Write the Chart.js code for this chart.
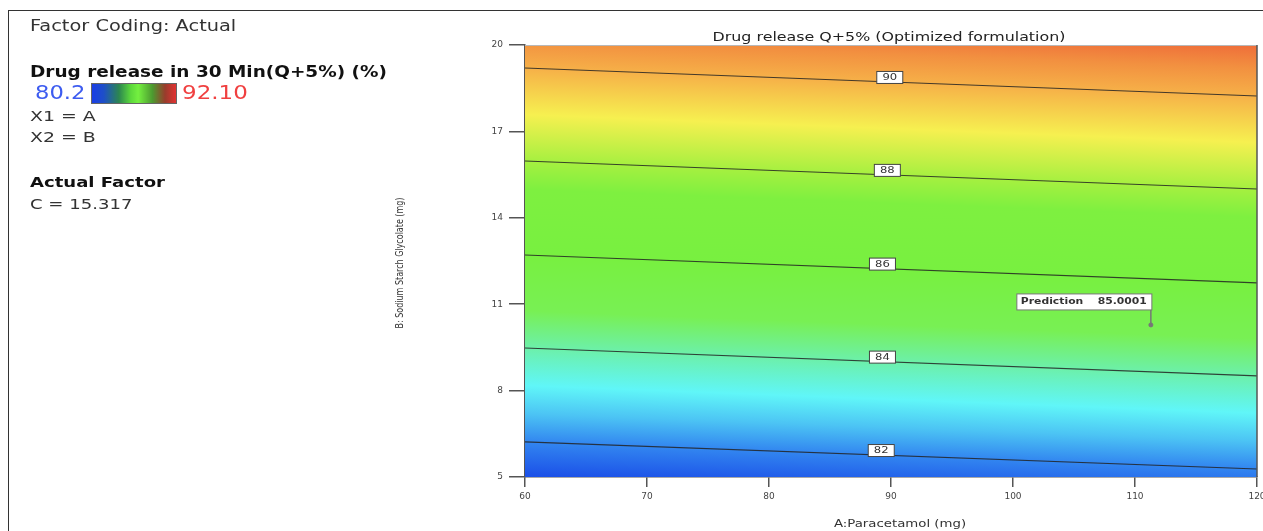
<!DOCTYPE html>
<html>
<head>
<meta charset="utf-8" />
<script src="https://cdn.jsdelivr.net/npm/chart.js@4.4.1/dist/chart.umd.min.js"></script>
<style>
  body { margin:0; background:#fff; overflow:hidden; width:1263px; height:531px; font-family:"DejaVu Sans", sans-serif; }
  #frame { position:absolute; left:8px; top:10px; width:1300px; height:600px; border-left:1.5px solid #333; border-top:1.5px solid #333; }
  #holder { position:absolute; left:0; top:0; width:1275px; height:531px; }
  .t { position:absolute; white-space:nowrap; transform-origin:0 0; transform:scaleX(1.29); line-height:1; color:#333; }
  #cbar { position:absolute; left:91px; top:83px; width:84px; height:19px; border:1px solid #666;
    background:linear-gradient(to right,#1a3ee6 0%,#1e4fc8 14%,#2c8650 32%,#5cd83c 46%,#74f040 55%,#4c9a30 72%,#983c2c 87%,#e23232 100%); }
</style>
</head>
<body>
<div id="frame"></div>
<div id="holder"><canvas id="contour"></canvas></div>

<div class="t" style="left:30px;top:19px;font-size:15px;">Factor Coding: Actual</div>
<div class="t" style="left:30px;top:65px;font-size:15px;font-weight:bold;color:#111;transform:scaleX(1.23);">Drug release in 30 Min(Q+5%) (%)</div>
<div class="t" style="left:35px;top:83px;font-size:19px;color:#3d5cf0;transform:scaleX(1.19);">80.2</div>
<div id="cbar"></div>
<div class="t" style="left:182px;top:83px;font-size:19px;color:#f04040;transform:scaleX(1.21);">92.10</div>
<div class="t" style="left:30px;top:110px;font-size:13.5px;transform:scaleX(1.4);">X1 = A</div>
<div class="t" style="left:30px;top:131px;font-size:13.5px;transform:scaleX(1.4);">X2 = B</div>
<div class="t" style="left:30px;top:175px;font-size:14px;font-weight:bold;color:#111;">Actual Factor</div>
<div class="t" style="left:30px;top:197px;font-size:14px;">C = 15.317</div>

<script>
// axis ticks
const xTicks = [60, 70, 80, 90, 100, 110, 120];
const yTicks = [5, 8, 11, 14, 17, 20];

// contour levels and where each crosses A = 60 and A = 120 (values of B)
const levels  = [82, 84, 86, 88, 90];
const bAtA60  = [6.22, 9.48, 12.71, 15.97, 19.20];
const bAtA120 = [5.28, 8.51, 11.74, 15.00, 18.23];
const labelA  = [89.2, 89.3, 89.3, 89.7, 89.9];

// flagged prediction point
const predA = 111.3, predB = 10.28, predText = '85.0001';

// colour ramp of the response
const rampVals = [80.2, 81.3, 82.0, 82.6, 83.2, 84.0, 84.8, 86.0, 87.4, 88.0, 89.0, 90.0, 90.6, 91.2, 92.1];
const rampCols = ['#1236d4','#1c52e8','#3286f0','#4cc4f4','#60f6f8','#6cf0aa','#78f054','#78f040','#7ef040',
                  '#a6f040','#f6f050','#f6b048','#f29040','#ee6638','#e03422'];

const SX = 1.29;

function bForLevel(v, A) {
  const f = (A - 60) / 60;
  const bs = levels.map((L, i) => bAtA60[i] + (bAtA120[i] - bAtA60[i]) * f);
  let i = 0;
  while (i < levels.length - 2 && v > levels[i + 1]) i++;
  const t = (v - levels[i]) / (levels[i + 1] - levels[i]);
  return bs[i] + t * (bs[i + 1] - bs[i]);
}

function sText(ctx, txt, x, y, sx, align) {
  ctx.save(); ctx.translate(x, y); ctx.scale(sx, 1);
  ctx.textAlign = align; ctx.fillText(txt, 0, 0); ctx.restore();
}

const fieldPlugin = {
  id: 'field',
  beforeDatasetsDraw(chart) {
    const ctx = chart.ctx, xs = chart.scales.x, ys = chart.scales.y;
    const {left, right, top, bottom} = chart.chartArea;
    ctx.save();
    ctx.beginPath(); ctx.rect(left, top, right - left, bottom - top); ctx.clip();
    const n = rampVals.length;
    for (let px = left; px < right; px += 2) {
      const A = xs.getValueForPixel(px + 1);
      const y0 = ys.getPixelForValue(bForLevel(rampVals[0], A));
      const y1 = ys.getPixelForValue(bForLevel(rampVals[n - 1], A));
      const g = ctx.createLinearGradient(0, y0, 0, y1);
      rampVals.forEach((v, k) => {
        const o = (ys.getPixelForValue(bForLevel(v, A)) - y0) / (y1 - y0);
        g.addColorStop(Math.min(1, Math.max(0, o)), rampCols[k]);
      });
      ctx.fillStyle = g;
      ctx.fillRect(px, top, 2.5, bottom - top);
    }
    ctx.restore();
  },
  afterDatasetsDraw(chart) {
    const ctx = chart.ctx, xs = chart.scales.x, ys = chart.scales.y;
    const {left, right, top, bottom} = chart.chartArea;
    // contour labels
    ctx.save();
    ctx.font = '9px "DejaVu Sans"';
    ctx.textBaseline = 'middle';
    levels.forEach((L, i) => {
      const px = xs.getPixelForValue(labelA[i]);
      const py = ys.getPixelForValue(bForLevel(L, labelA[i]));
      ctx.fillStyle = '#fff'; ctx.strokeStyle = '#444'; ctx.lineWidth = 1;
      ctx.fillRect(px - 13, py - 10.5, 26, 12);
      ctx.strokeRect(px - 13, py - 10.5, 26, 12);
      ctx.fillStyle = '#333';
      sText(ctx, String(L), px, py - 4.3, SX, 'center');
    });
    // prediction flag
    const pX = xs.getPixelForValue(predA), pY = ys.getPixelForValue(predB);
    ctx.strokeStyle = '#777'; ctx.lineWidth = 1.5;
    ctx.beginPath(); ctx.moveTo(pX, pY); ctx.lineTo(pX, pY - 16); ctx.stroke();
    ctx.fillStyle = '#fff'; ctx.strokeStyle = '#777'; ctx.lineWidth = 1;
    ctx.fillRect(pX - 134, pY - 31, 135, 16);
    ctx.strokeRect(pX - 134, pY - 31, 135, 16);
    ctx.fillStyle = '#333';
    ctx.font = 'bold 9px "DejaVu Sans"';
    sText(ctx, 'Prediction', pX - 130, pY - 23, 1.2, 'left');
    sText(ctx, predText, pX - 4, pY - 23, 1.2, 'right');
    // top / right frame of plot
    ctx.strokeStyle = '#b8b8b8'; ctx.lineWidth = 1;
    ctx.beginPath(); ctx.moveTo(left, top + 0.5); ctx.lineTo(right, top + 0.5); ctx.stroke();
    ctx.strokeStyle = '#555'; ctx.lineWidth = 1.5;
    ctx.beginPath(); ctx.moveTo(right, top); ctx.lineTo(right, bottom); ctx.stroke();
    ctx.restore();
  },
  afterDraw(chart) {
    const ctx = chart.ctx;
    const {left, right, top, bottom} = chart.chartArea;
    const cx = (left + right) / 2;
    ctx.save();
    ctx.fillStyle = '#222';
    ctx.textBaseline = 'alphabetic';
    ctx.font = '13px "DejaVu Sans"';
    sText(ctx, 'Drug release Q+5% (Optimized formulation)', cx - 2, 41, 1.22, 'center');
    ctx.fillStyle = '#333';
    ctx.font = '10px "DejaVu Sans"';
    sText(ctx, 'A:Paracetamol (mg)', cx + 9, bottom + 50, 1.33, 'center');
    ctx.font = '8px "DejaVu Sans"';
    ctx.translate(403, (top + bottom) / 2 + 2);
    ctx.scale(1.35, 1);
    ctx.rotate(-Math.PI / 2);
    ctx.textAlign = 'center';
    ctx.fillText('B: Sodium Starch Glycolate (mg)', 0, 0);
    ctx.restore();
  }
};

const lineSets = levels.map((L, i) => ({
  type: 'line',
  label: String(L),
  data: [{x: 60, y: bAtA60[i]}, {x: 120, y: bAtA120[i]}],
  borderColor: 'rgba(35,35,35,0.85)',
  borderWidth: 1.1,
  pointRadius: 0,
  fill: false
}));

const tickFont = {family: '"DejaVu Sans"', size: 9};

new Chart(document.getElementById('contour'), {
  type: 'scatter',
  data: {
    datasets: [...lineSets, {
      type: 'scatter',
      label: 'Prediction',
      data: [{x: predA, y: predB}],
      pointRadius: 2,
      pointBackgroundColor: '#777',
      pointBorderColor: '#777'
    }]
  },
  options: {
    responsive: true,
    maintainAspectRatio: false,
    animation: false,
    events: [],
    layout: {padding: {left: 485, right: 18, top: 45, bottom: 0}},
    plugins: {legend: {display: false}, tooltip: {enabled: false}, title: {display: false}},
    scales: {
      x: {
        type: 'linear', min: 60, max: 120,
        afterBuildTicks: s => { s.ticks = xTicks.map(v => ({value: v})); },
        afterFit: s => { s.height = 54; },
        ticks: {font: tickFont, color: '#444', padding: 4, maxRotation: 0, autoSkip: false},
        grid: {drawOnChartArea: false, drawTicks: true, tickLength: 10, color: '#555', lineWidth: 1.5},
        border: {display: true, color: '#555', width: 1.5}
      },
      y: {
        type: 'linear', min: 5, max: 20,
        afterBuildTicks: s => { s.ticks = yTicks.map(v => ({value: v})); },
        afterFit: s => { s.width = 40; },
        ticks: {font: tickFont, color: '#444', padding: 6, autoSkip: false},
        grid: {drawOnChartArea: false, drawTicks: true, tickLength: 16, color: '#555', lineWidth: 1.5},
        border: {display: true, color: '#555', width: 1.5}
      }
    }
  },
  plugins: [fieldPlugin]
});
</script>
</body>
</html>
